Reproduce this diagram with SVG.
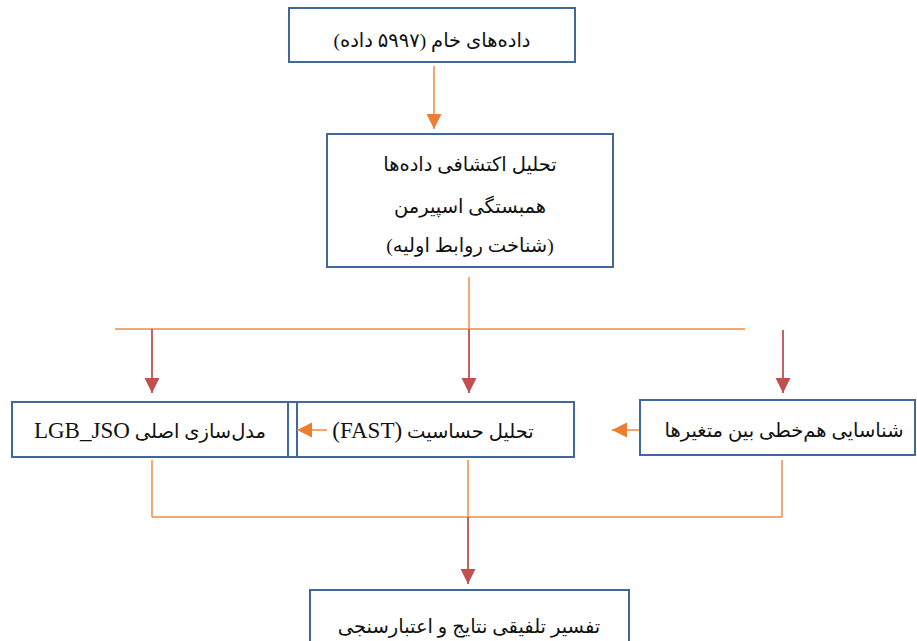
<svg xmlns="http://www.w3.org/2000/svg" width="917" height="641" viewBox="0 0 917 641">
<defs>
<style>
.box{fill:#fff;stroke:#41689C;stroke-width:2}
.t{font-family:"Liberation Serif","DejaVu Sans",serif;font-size:19.5px;fill:#111;text-anchor:middle;direction:rtl;unicode-bidi:embed}
.lat{font-size:23px}
.or{stroke:#F08A45;stroke-width:1.5;fill:none}
.rd{stroke:#C0504D;stroke-width:1.8;fill:none}
</style>
<marker id="ao" markerWidth="16" markerHeight="16" refX="15" refY="7.5" orient="auto" markerUnits="userSpaceOnUse"><path d="M0,0 L15,7.5 L0,15 z" fill="#ED7D31"/></marker>
<marker id="ar" markerWidth="16" markerHeight="16" refX="15" refY="7.5" orient="auto" markerUnits="userSpaceOnUse"><path d="M0,0 L15,7.5 L0,15 z" fill="#C0504D"/></marker>
</defs>
<rect width="917" height="641" fill="#fff"/>
<g id="n1">
<rect class="box" x="289" y="8" width="286" height="54"/>
<text class="t" x="432" y="47">داده‌های خام (۵۹۹۷ داده)</text>
</g>
<g id="n2">
<rect class="box" x="327" y="134" width="286" height="133"/>
<text class="t" x="470" y="171">تحلیل اکتشافی داده‌ها</text>
<text class="t" x="470" y="213">همبستگی اسپیرمن</text>
<text class="t" x="470" y="252">(شناخت روابط اولیه)</text>
</g>
<g id="n3">
<rect class="box" x="12" y="402" width="285" height="55"/>
<text class="t" x="150" y="438">مدل‌سازی اصلی <tspan class="lat">LGB_JSO</tspan></text>
</g>
<g id="n4">
<rect class="box" x="288" y="402" width="286" height="55" style="fill:none"/>
<text class="t" x="433" y="438">تحلیل حساسیت <tspan class="lat">(FAST)</tspan></text>
</g>
<g id="n5">
<rect class="box" x="640" y="400" width="275" height="55"/>
<text class="t" x="784" y="437">شناسایی هم‌خطی بین متغیرها</text>
</g>
<g id="n6">
<rect class="box" x="310" y="590" width="319" height="60"/>
<text class="t" x="469" y="633">تفسیر تلفیقی نتایج و اعتبارسنجی</text>
</g>
<g id="connectors">
<line class="or" x1="434" y1="66" x2="434" y2="129" marker-end="url(#ao)"/>
<line class="or" x1="469" y1="277" x2="469" y2="329"/>
<line class="or" x1="115" y1="329" x2="745" y2="329"/>
<line class="rd" x1="152" y1="329" x2="152" y2="393" marker-end="url(#ar)"/>
<line class="rd" x1="469" y1="329" x2="469" y2="393" marker-end="url(#ar)"/>
<line class="rd" x1="783" y1="330" x2="783" y2="393" marker-end="url(#ar)"/>
<line class="or" x1="639" y1="430" x2="612" y2="430" marker-end="url(#ao)"/>
<line class="or" x1="327" y1="430" x2="297" y2="430" marker-end="url(#ao)"/>
<line class="or" x1="152" y1="460" x2="152" y2="517"/>
<line class="or" x1="468" y1="460" x2="468" y2="517"/>
<line class="or" x1="782" y1="460" x2="782" y2="517"/>
<line class="or" x1="152" y1="517" x2="782" y2="517"/>
<line class="rd" x1="468" y1="517" x2="468" y2="584" marker-end="url(#ar)"/>
</g>
</svg>
